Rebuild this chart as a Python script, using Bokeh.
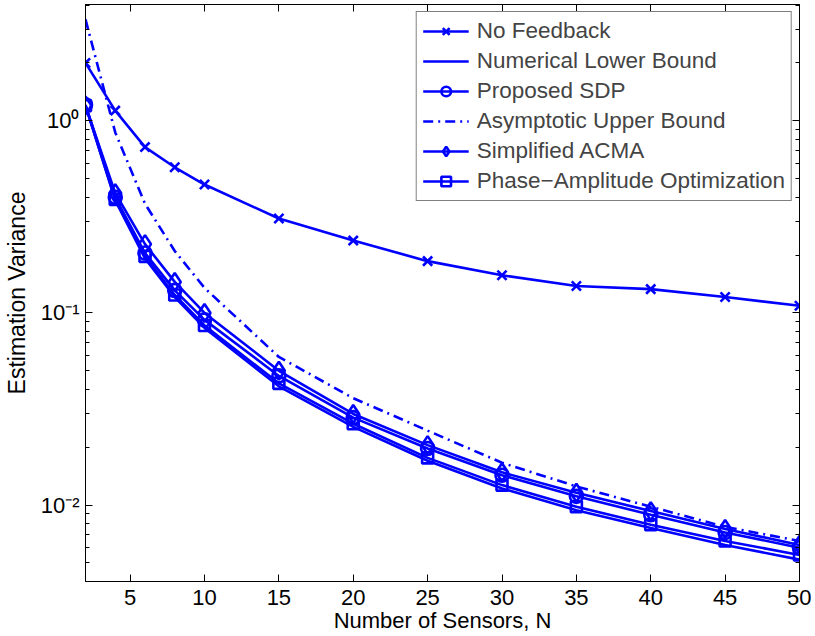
from bokeh.plotting import figure
from bokeh.models import (Range1d, LinearAxis, LogAxis, FixedTicker, LogTicker,
                          CustomJSTickFormatter, Legend, LegendItem)
from bokeh.embed import file_html
from bokeh.resources import INLINE

# ---- data ----
N = [2, 4, 6, 8, 10, 15, 20, 25, 30, 35, 40, 45, 50]
no_feedback = [2.0, 1.13, 0.73, 0.573, 0.466, 0.31, 0.238, 0.186, 0.157, 0.138, 0.133, 0.121, 0.109]
lower_bound = [1.2, 0.385, 0.192, 0.121, 0.0835, 0.0415, 0.0255, 0.0170, 0.0122, 0.0094, 0.0076, 0.0062, 0.0052]
proposed_sdp = [1.21, 0.40, 0.205, 0.131, 0.092, 0.047, 0.0285, 0.0197, 0.0143, 0.0111, 0.0089, 0.0072, 0.0060]
asymptotic_ub = [3.37, 0.87, 0.37, 0.21, 0.135, 0.059, 0.036, 0.0244, 0.0166, 0.0125, 0.0098, 0.0077, 0.0065]
simplified_acma = [1.2, 0.42, 0.228, 0.145, 0.100, 0.050, 0.0298, 0.0205, 0.0148, 0.0116, 0.0093, 0.0075, 0.0062]
phase_amp = [1.2, 0.39, 0.197, 0.124, 0.086, 0.043, 0.0265, 0.0176, 0.0127, 0.0098, 0.0079, 0.0065, 0.0055]

series_names = ["No Feedback", "Numerical Lower Bound", "Proposed SDP",
                "Asymptotic Upper Bound", "Simplified ACMA", "Phase\u2212Amplitude Optimization"]
x_ticks = [5, 10, 15, 20, 25, 30, 35, 40, 45, 50]
x_label = "Number of Sensors, N"
y_label = "Estimation Variance"

BLUE = "#0000ff"
FONT = "Liberation Sans"
FS = "22px"

p = figure(width=811, height=631,
           x_range=Range1d(2, 50), y_range=Range1d(0.004, 4.03),
           y_axis_type="log", output_backend="svg", toolbar_location=None,
           min_border_left=78, min_border_right=12, min_border_top=0,
           min_border_bottom=40, margin=(4, 0, -20, 0))
p.grid.visible = False
p.outline_line_color = "black"
p.outline_line_width = 1
p.background_fill_color = "white"
p.border_fill_color = "white"

sup = CustomJSTickFormatter(code="""
const m = {'-':'\u207b','0':'\u2070','1':'\u00b9','2':'\u00b2','3':'\u00b3','4':'\u2074','5':'\u2075','6':'\u2076','7':'\u2077','8':'\u2078','9':'\u2079'};
const e = Math.round(Math.log10(tick));
return '10' + String(e).split('').map(c => m[c]).join('');
""")
blank = CustomJSTickFormatter(code="return '';")

# bottom x axis
xa = p.xaxis[0]
xa.ticker = FixedTicker(ticks=x_ticks)
xa.axis_label = x_label
ya = p.yaxis[0]
ya.ticker = LogTicker(num_minor_ticks=10)
ya.formatter = sup
ya.axis_label = y_label
for ax in (xa, ya):
    ax.major_label_text_font = FONT
    ax.major_label_text_font_size = FS
    ax.major_label_text_color = "black"
    ax.axis_label_text_font = FONT
    ax.axis_label_text_font_size = FS
    ax.axis_label_text_font_style = "normal"
    ax.axis_label_text_color = "black"
    ax.axis_line_color = "black"
    ax.major_tick_line_color = "black"
    ax.minor_tick_line_color = "black"
    ax.major_tick_in = 7
    ax.major_tick_out = 0
    ax.minor_tick_in = 4
    ax.minor_tick_out = 0
ya.axis_label_text_font_size = "23px"
xa.minor_tick_line_color = None
xa.major_label_standoff = 8
xa.axis_label_standoff = 0
ya.major_label_standoff = 6
ya.axis_label_standoff = 8

# top and right box axes (ticks only)
top = LinearAxis(ticker=FixedTicker(ticks=x_ticks), formatter=blank,
                 major_label_text_font_size="1px",
                 major_tick_in=7, major_tick_out=0, minor_tick_line_color=None,
                 major_label_standoff=0, axis_line_color="black")
right = LogAxis(ticker=LogTicker(num_minor_ticks=10), formatter=blank,
                major_label_text_font_size="1px",
                major_tick_in=7, major_tick_out=0, minor_tick_in=4, minor_tick_out=0,
                major_label_standoff=0, axis_line_color="black")
p.add_layout(top, "above")
p.add_layout(right, "right")

LW = 2.6
MS = 13

items = []
r1 = p.line(N, no_feedback, line_color=BLUE, line_width=LW)
s1 = p.scatter(N, no_feedback, marker="x", size=MS, line_color=BLUE, line_width=LW)
items.append(LegendItem(label=series_names[0], renderers=[r1, s1]))

r2 = p.line(N, lower_bound, line_color=BLUE, line_width=LW)
items.append(LegendItem(label=series_names[1], renderers=[r2]))

r3 = p.line(N, proposed_sdp, line_color=BLUE, line_width=LW)
s3 = p.scatter(N, proposed_sdp, marker="circle", size=MS, line_color=BLUE,
               fill_color=None, line_width=LW)
items.append(LegendItem(label=series_names[2], renderers=[r3, s3]))

r4 = p.line(N, asymptotic_ub, line_color=BLUE, line_width=LW, line_dash="10 5 2 5")
items.append(LegendItem(label=series_names[3], renderers=[r4]))

r5 = p.line(N, simplified_acma, line_color=BLUE, line_width=LW)
s5 = p.scatter(N, simplified_acma, marker="diamond", size=MS + 5, line_color=BLUE,
               fill_color=None, line_width=LW)
items.append(LegendItem(label=series_names[4], renderers=[r5, s5]))

r6 = p.line(N, phase_amp, line_color=BLUE, line_width=LW)
s6 = p.scatter(N, phase_amp, marker="square", size=MS - 2, line_color=BLUE,
               fill_color=None, line_width=LW)
items.append(LegendItem(label=series_names[5], renderers=[r6, s6]))

legend = Legend(items=items, location="top_right", margin=7, padding=6,
                spacing=4, glyph_width=46, glyph_height=24, label_height=24,
                label_standoff=8, label_text_font=FONT, label_text_font_size="22.5px",
                border_line_color="black", border_line_width=1,
                background_fill_color="white", background_fill_alpha=1)
p.add_layout(legend)

open("out.html", "w").write(file_html(p, INLINE))
